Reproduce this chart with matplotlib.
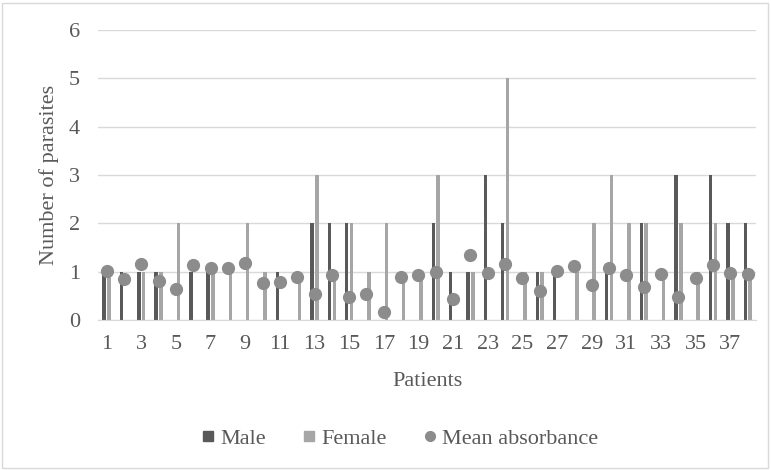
import matplotlib.pyplot as plt
from matplotlib.lines import Line2D
import numpy as np

plt.rcParams['font.family'] = ['Liberation Serif', 'DejaVu Serif']

patients = list(range(1, 39))
male = [1, 1, 1, 1, 0, 1, 1, 0, 0, 0,
        1, 0, 2, 2, 2, 0, 0, 0, 0, 2,
        1, 1, 3, 2, 0, 1, 1, 0, 0, 1,
        0, 2, 0, 3, 0, 3, 2, 2]
female = [1, 0, 1, 1, 2, 0, 1, 1, 2, 1,
          0, 1, 3, 1, 2, 1, 2, 1, 1, 3,
          0, 1, 0, 5, 1, 1, 0, 1, 2, 3,
          2, 2, 1, 2, 1, 2, 1, 1]
absorbance = [1.02, 0.85, 1.15, 0.81, 0.64, 1.14, 1.08, 1.08, 1.18, 0.77,
              0.79, 0.89, 0.54, 0.93, 0.48, 0.54, 0.17, 0.90, 0.93, 1.00,
              0.43, 1.35, 0.97, 1.17, 0.87, 0.60, 1.01, 1.12, 0.73, 1.08,
              0.93, 0.68, 0.95, 0.48, 0.87, 1.14, 0.97, 0.95]

male_color = '#595959'
female_color = '#a6a6a6'
dot_color = '#8c8c8c'
text_color = '#595959'

fig = plt.figure(figsize=(7.71, 4.70), dpi=100)
ax = fig.add_axes([0.127, 0.319, 0.854, 0.617])

x = np.array(patients)
w = 0.2
ax.bar(x - 0.14, male, width=w, color=male_color, zorder=2)
ax.bar(x + 0.14, female, width=w, color=female_color, zorder=2)
ax.plot(x, absorbance, 'o', color=dot_color, markersize=8.5, zorder=3)

ax.set_xlim(0.5, 38.5)
ax.set_ylim(0, 6)
ax.set_yticks(range(0, 7))
ax.set_xticks(range(1, 39, 2))
ax.grid(axis='y', color='#d9d9d9', linewidth=1, zorder=0)
for s in ['top', 'right', 'left']:
    ax.spines[s].set_visible(False)
ax.spines['bottom'].set_color('#d9d9d9')
ax.tick_params(length=0, labelsize=16, colors=text_color)
ax.tick_params(axis='x', pad=11)
ax.tick_params(axis='y', pad=13)

ax.set_xlabel('Patients', fontsize=16, color=text_color, labelpad=13)
ax.set_ylabel('Number of parasites', fontsize=16, color=text_color, labelpad=7)

handles = [Line2D([], [], marker='s', linestyle='', color=male_color, markersize=7),
           Line2D([], [], marker='s', linestyle='', color=female_color, markersize=7),
           Line2D([], [], marker='o', linestyle='', color=dot_color, markersize=7)]
fig.legend(handles, ['Male', 'Female', 'Mean absorbance'], loc='center',
           bbox_to_anchor=(0.515, 0.067), ncol=3, frameon=False, fontsize=16,
           labelcolor=text_color, handletextpad=0.0, columnspacing=1.4,
           handlelength=1.1)

fig.patches.append(plt.Rectangle((0.002, 0.004), 0.994, 0.99, transform=fig.transFigure,
                                 fill=False, edgecolor='#d9d9d9', linewidth=1))

fig.savefig('out.png', dpi=100)
